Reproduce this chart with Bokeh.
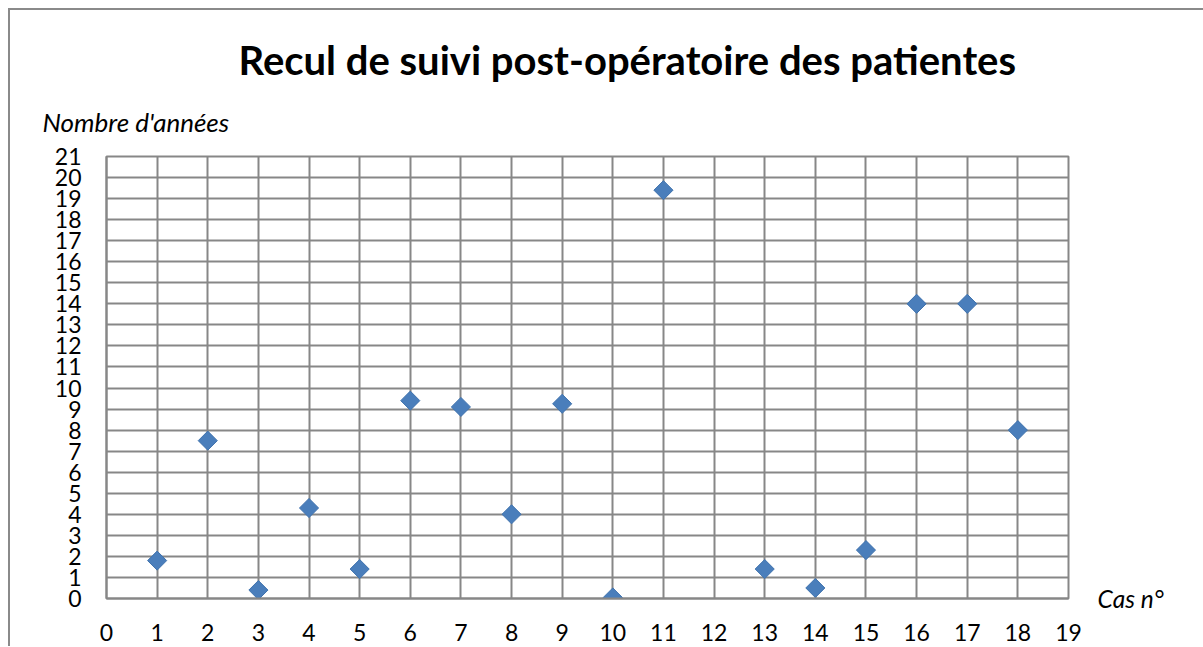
import numpy as np
from bokeh.plotting import figure
from bokeh.models import Range1d, FixedTicker, Title, LinearAxis, ColumnDataSource
from bokeh.embed import file_html
from bokeh.resources import INLINE

# Data
cases = [1, 2, 3, 4, 5, 6, 7, 8, 9, 10, 11, 13, 14, 15, 16, 17, 18]
years = [1.8, 7.5, 0.4, 4.3, 1.4, 9.4, 9.1, 4.0, 9.25, 0.05, 19.4, 1.4, 0.5, 2.3, 14.0, 14.0, 8.0]
x_ticks = list(range(0, 20))
y_ticks = list(range(0, 22))

title_text = "Recul de suivi post-opératoire des patientes"
y_title = "Nombre d'années"
x_title = "Cas n°"

GRID = "#878787"

p = figure(
    output_backend="svg",
    toolbar_location=None,
    frame_width=962,
    frame_height=442,
    min_border_left=96,
    min_border_top=146,
    min_border_right=135,
    min_border_bottom=48,
    x_range=Range1d(0, 19),
    y_range=Range1d(0, 21),
    background_fill_color="white",
    border_fill_color="white",
    outline_line_color=GRID,
    outline_line_width=2,
)
p.styles = {"margin-left": "8px", "margin-top": "8px",
            "border-left": "2px solid #8a8a8a", "border-top": "2px solid #8a8a8a"}

for ax, ticks in ((p.xaxis, x_ticks), (p.yaxis, y_ticks)):
    ax.ticker = FixedTicker(ticks=ticks)
    ax.major_tick_in = 0
    ax.major_tick_out = 0
    ax.minor_tick_in = 0
    ax.minor_tick_out = 0
    ax.axis_line_color = GRID
    ax.axis_line_width = 2
    ax.major_label_text_font = "Lato"
    ax.major_label_text_font_size = "23px"
    ax.major_label_text_color = "black"

p.yaxis.major_label_standoff = 25
p.xaxis.major_label_standoff = 25

p.xgrid.ticker = FixedTicker(ticks=x_ticks)
p.ygrid.ticker = FixedTicker(ticks=y_ticks)
for g in (p.xgrid, p.ygrid):
    g.grid_line_color = GRID
    g.grid_line_width = 2
    g.grid_line_alpha = 1.0

src = ColumnDataSource(dict(x=cases, y=years))
p.scatter("x", "y", source=src, marker="square", angle=np.pi / 4, size=13.5,
          fill_color="#4a7ebb", line_color="#3f72ad", line_width=1)

# x-axis title "Cas n°" at the right end of the bottom line
cas_axis = LinearAxis(ticker=FixedTicker(ticks=[0]), major_label_overrides={0: x_title},
                      axis_line_color=None, major_tick_in=0, major_tick_out=0,
                      minor_tick_in=0, minor_tick_out=0, major_label_standoff=29,
                      major_label_text_font="Lato", major_label_text_font_style="italic",
                      major_label_text_font_size="24.5px", major_label_text_color="black")
p.add_layout(cas_axis, "right")

# y-axis title (nearest to the frame), then main title above it
p.add_layout(Title(text=y_title, align="left", offset=-64, standoff=37,
                   text_font="Lato", text_font_style="italic", text_font_size="26px",
                   text_color="black"), "above")
p.add_layout(Title(text=title_text, align="left", offset=132, standoff=3,
                   text_font="Lato", text_font_style="bold", text_font_size="40px",
                   text_color="black"), "above")

open("out.html", "w").write(file_html(p, INLINE))
